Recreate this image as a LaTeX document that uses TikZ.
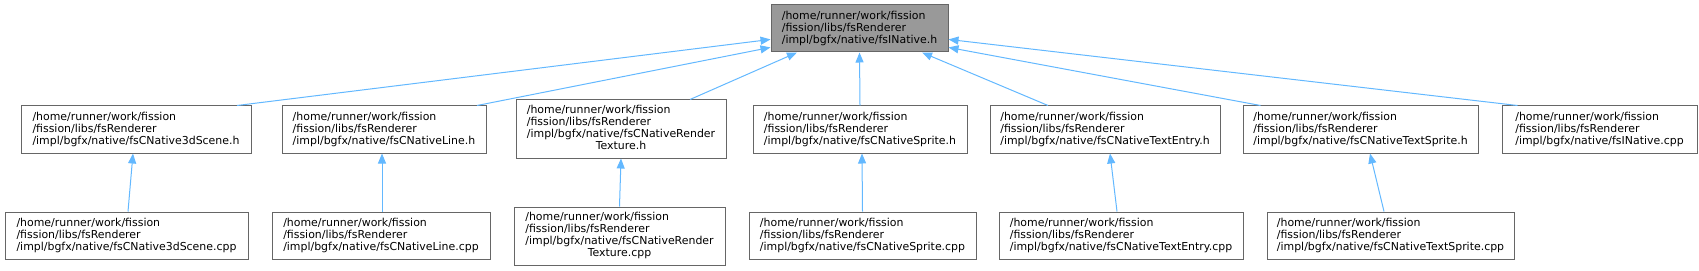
\documentclass[tikz,border=0pt]{standalone}
\usepackage{fontspec}
\setmainfont{DejaVu Sans}
\usetikzlibrary{arrows.meta,calc}

\definecolor{dxedge}{HTML}{63B8FF}
\definecolor{dxborder}{HTML}{666666}
\definecolor{dxroot}{HTML}{999999}

\tikzset{
  file/.style={draw=dxborder, line width=0.75pt, fill=white, inner sep=0pt,
    align=left, minimum height=35.25pt, font=\fontsize{8.2}{9.2}\selectfont},
  rootfile/.style={file, fill=dxroot},
  dep/.style={draw=dxedge, line width=0.75pt, {Triangle[length=7.5pt,width=6pt]}-}
}

\begin{document}
\begin{tikzpicture}[x=0.75pt, y=-0.75pt]
            \useasboundingbox (0,0) rectangle (1699,271);

            % Define nodes
            \node[rootfile, minimum width=132.75pt] (root) at (859.5,28.5)
              {/home/runner/work/fission\\/fission/libs/fsRenderer\\/impl/bgfx/native/fsINative.h};

            \node[file, minimum width=172.5pt] (scene) at (136,129.5)
              {/home/runner/work/fission\\/fission/libs/fsRenderer\\/impl/bgfx/native/fsCNative3dScene.h};
            \node[file, minimum width=153pt] (line) at (384,129.5)
              {/home/runner/work/fission\\/fission/libs/fsRenderer\\/impl/bgfx/native/fsCNativeLine.h};
            \node[file, minimum width=157.5pt, minimum height=43.5pt] (rtex) at (621,129)
              {\begin{tabular}{@{}l@{}}/home/runner/work/fission\\/fission/libs/fsRenderer\\/impl/bgfx/native/fsCNativeRender\\\multicolumn{1}{@{}c@{}}{Texture.h}\end{tabular}};
            \node[file, minimum width=160.5pt] (sprite) at (860,129.5)
              {/home/runner/work/fission\\/fission/libs/fsRenderer\\/impl/bgfx/native/fsCNativeSprite.h};
            \node[file, minimum width=172.5pt] (tentry) at (1105,129.5)
              {/home/runner/work/fission\\/fission/libs/fsRenderer\\/impl/bgfx/native/fsCNativeTextEntry.h};
            \node[file, minimum width=176.25pt] (tsprite) at (1360.5,129.5)
              {/home/runner/work/fission\\/fission/libs/fsRenderer\\/impl/bgfx/native/fsCNativeTextSprite.h};
            \node[file, minimum width=146.25pt] (inat) at (1599.5,129.5)
              {/home/runner/work/fission\\/fission/libs/fsRenderer\\/impl/bgfx/native/fsINative.cpp};

            \node[file, minimum width=182.25pt] (scenecpp) at (126.5,235.5)
              {/home/runner/work/fission\\/fission/libs/fsRenderer\\/impl/bgfx/native/fsCNative3dScene.cpp};
            \node[file, minimum width=163.5pt] (linecpp) at (381,235.5)
              {/home/runner/work/fission\\/fission/libs/fsRenderer\\/impl/bgfx/native/fsCNativeLine.cpp};
            \node[file, minimum width=158.25pt, minimum height=43.5pt] (rtexcpp) at (619.5,236)
              {\begin{tabular}{@{}l@{}}/home/runner/work/fission\\/fission/libs/fsRenderer\\/impl/bgfx/native/fsCNativeRender\\\multicolumn{1}{@{}c@{}}{Texture.cpp}\end{tabular}};
            \node[file, minimum width=170.25pt] (spritecpp) at (862.5,235.5)
              {/home/runner/work/fission\\/fission/libs/fsRenderer\\/impl/bgfx/native/fsCNativeSprite.cpp};
            \node[file, minimum width=183pt] (tentrycpp) at (1121,235.5)
              {/home/runner/work/fission\\/fission/libs/fsRenderer\\/impl/bgfx/native/fsCNativeTextEntry.cpp};
            \node[file, minimum width=185.25pt] (tspritecpp) at (1390.5,235.5)
              {/home/runner/work/fission\\/fission/libs/fsRenderer\\/impl/bgfx/native/fsCNativeTextSprite.cpp};

            % Draw edges
            \draw[dep] (root.187) -- ($(scene.north)+(101,0)$);
            \draw[dep] (root.192) -- ($(line.north)+(93,0)$);
            \draw[dep] (root.201) -- ($(rtex.north)+(69,0)$);
            \draw[dep] (root.south) -- (sprite.north);
            \draw[dep] (root.339) -- ($(tentry.north)+(-57,0)$);
            \draw[dep] (root.348) -- ($(tsprite.north)+(-100,0)$);
            \draw[dep] (root.353) -- ($(inat.north)+(-82,0)$);

            \draw[dep] ($(scene.south)+(-3,0)$) -- ($(scenecpp.north)+(1.5,0)$);
            \draw[dep] ($(line.south)+(-2,0)$) -- ($(linecpp.north)+(1,0)$);
            \draw[dep] (rtex.south) -- (rtexcpp.north);
            \draw[dep] ($(sprite.south)+(2,0)$) -- (spritecpp.north);
            \draw[dep] ($(tentry.south)+(5,0)$) -- ($(tentrycpp.north)+(-4,0)$);
            \draw[dep] ($(tsprite.south)+(9.5,0)$) -- ($(tspritecpp.north)+(-6.5,0)$);

        \end{tikzpicture}
\end{document}
